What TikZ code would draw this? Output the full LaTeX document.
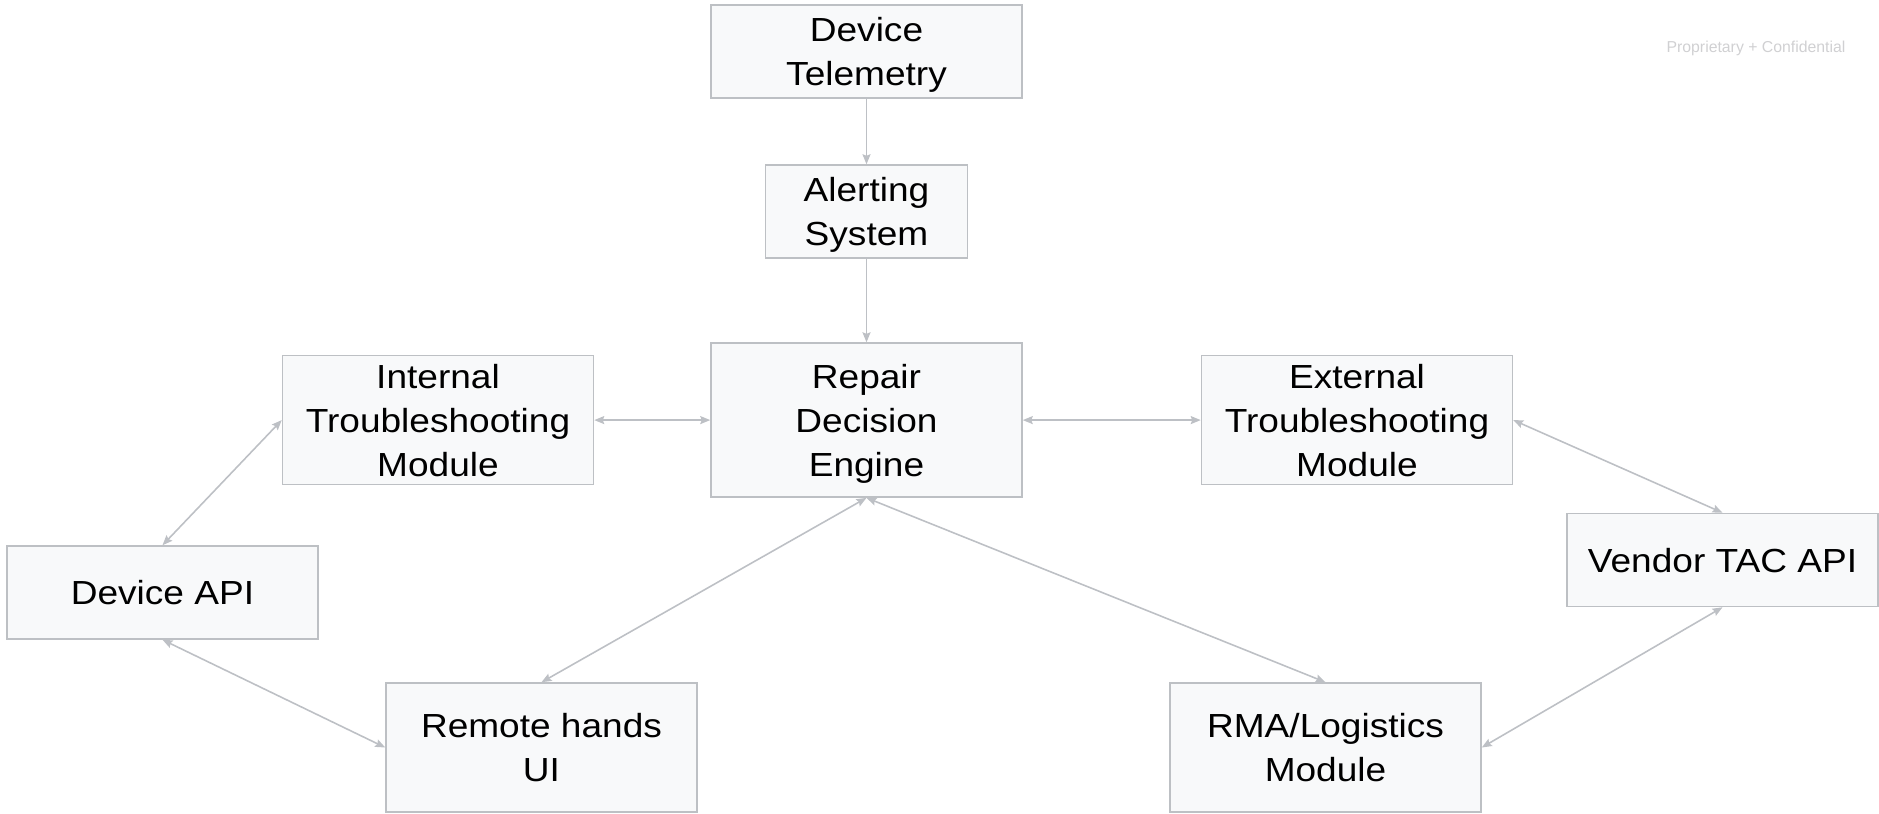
\documentclass[tikz,border=0pt]{standalone}
\usepackage{fontspec}
\setmainfont[FakeStretch=1.11]{Liberation Sans}
\newfontfamily\notefont{Liberation Sans}
\usepackage{xcolor}
\usepackage{tikz}
\usetikzlibrary{arrows.meta, positioning}
\definecolor{boxgray}{RGB}{189,192,196}
\definecolor{boxfill}{RGB}{248,249,250}
\definecolor{linkgray}{RGB}{189,192,197}
\definecolor{notegray}{RGB}{208,208,210}

\begin{document}
\begin{tikzpicture}[
  x=0.02cm, y=-0.02cm,
  module/.style={draw=boxgray, fill=boxfill, line width=0.9pt,
                 minimum width=6.22cm, minimum height=1.86cm, inner sep=0pt,
                 text depth=-2pt,
                 font=\fontsize{19}{25}\selectfont, align=center},
  tall/.style={module, minimum height=2.58cm},
  link/.style={-{Stealth[length=0.2cm,width=0.16cm,inset=0.03cm]},
               line width=0.9pt, linkgray},
  both/.style={{Stealth[length=0.2cm,width=0.16cm,inset=0.03cm]}-{Stealth[length=0.2cm,width=0.16cm,inset=0.03cm]},
               line width=0.9pt, linkgray},
]
\useasboundingbox (0,0) rectangle (1879,814);

\node[module] (telemetry) at (866.5,51.5) {Device\\Telemetry};
\node[module, minimum width=4.04cm, below=1.31cm of telemetry] (alerting) {Alerting\\System};
\node[module, minimum height=3.08cm, below=1.67cm of alerting] (engine) {Repair\\Decision\\Engine};
\node[tall, left=2.32cm of engine]  (internal) {Internal\\Troubleshooting\\Module};
\node[tall, right=3.56cm of engine] (external) {External\\Troubleshooting\\Module};

\node[module] (devapi) at (162.5,592.5) {Device API};
\node[module] (vendor) at (1722.5,560) {Vendor TAC API};
\node[tall]   (remote) at (541.5,747.5) {Remote hands\\UI};
\node[tall]   (rma)    at (1325.5,747.5) {RMA/Logistics\\Module};

\draw[link] (telemetry) -- (alerting);
\draw[link] (alerting)  -- (engine);
\draw[both] (internal)  -- (engine);
\draw[both] (engine)    -- (external);
\draw[both] (internal.west) -- (devapi.north);
\draw[both] (devapi.south)  -- (remote.west);
\draw[both] (engine.south)  -- (remote.north);
\draw[both] (engine.south)  -- (rma.north);
\draw[both] (external.east) -- (vendor.north);
\draw[both] (vendor.south)  -- (rma.east);

\node[font=\notefont\fontsize{9}{11}\selectfont, text=notegray] (note) at (1756,48)
  {Proprietary + Confidential};

\end{tikzpicture}
\end{document}
